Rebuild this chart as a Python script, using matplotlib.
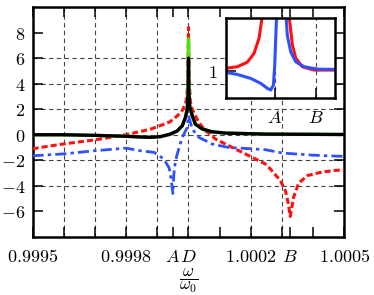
import numpy as np
import matplotlib
matplotlib.use('Agg')
import matplotlib.pyplot as plt

plt.rcParams['mathtext.fontset'] = 'cm'
plt.rcParams['font.family'] = 'serif'
plt.rcParams['font.serif'] = ['DejaVu Serif']

# x values are offsets from omega/omega0 = 1 in units of 1e-4
A_off = -0.5
B_off = 3.26

black_off = [-5, -4, -3, -2, -1.5, -1.22, -0.9, -0.58, -0.36, -0.2, -0.1, -0.04, -0.01, 0,
             0.01, 0.04, 0.12, 0.22, 0.44, 0.76, 1.19, 2.47, 5.0]
black_val = [0.0, 0.0, -0.05, -0.12, -0.18, -0.2, -0.15, 0.05, 0.3, 0.7, 1.35, 2.0, 3.5, 6.0,
             3.5, 2.2, 1.5, 0.83, 0.45, 0.23, 0.13, 0.05, 0.02]
green_val = [0.0, 0.0, -0.05, -0.12, -0.18, -0.2, -0.15, 0.05, 0.3, 0.7, 1.35, 2.0, 4.0, 7.5,
             4.0, 2.2, 1.5, 0.83, 0.45, 0.23, 0.13, 0.05, 0.02]

red_off = [-5, -4.5, -4, -3.5, -3, -2.5, -2, -1.5, -1.2, -1, -0.6, -0.35, -0.2, -0.1, -0.05, -0.02, 0,
           0.02, 0.06, 0.12, 0.33, 0.55, 0.87, 1.29, 1.72, 2.15, 2.47, 2.63, 2.95, 3.11, 3.2, 3.26,
           3.37, 3.53, 3.81, 4.23, 4.65, 5.0]
red_val = [-1.1, -0.9, -0.72, -0.56, -0.4, -0.2, 0.0, 0.28, 0.45, 0.63, 1.0, 1.5, 1.9, 2.4, 3.0, 4.5, 8.4,
           4.5, 2.6, 2.0, 0.96, 0.31, -0.34, -0.86, -1.38, -1.9, -2.3, -2.7, -3.6, -4.4, -5.4, -6.4,
           -4.9, -3.8, -3.2, -2.95, -2.8, -2.75]

blue_off = [-5, -4, -3, -2, -1.55, -1.1, -0.79, -0.62, -0.56, -0.5, -0.47, -0.42, -0.36, -0.2, -0.04, 0,
            0.12, 0.33, 0.76, 1.29, 2.03, 2.47, 3.0, 4.0, 5.0]
blue_val = [-1.65, -1.5, -1.25, -1.05, -1.25, -1.38, -1.9, -2.6, -3.4, -4.6, -3.1, -2.1, -1.5, -0.2, 0.57, 1.5,
            0.45, -0.2, -0.73, -1.0, -1.1, -1.17, -1.43, -1.6, -1.7]

# inset curves
ins_red_off = [-5, -3.92, -3.0, -2.4, -1.94, -1.64, -1.2, -0.5, 0.3, 0.8, 1.1, 1.41, 2.01, 3.08, 5.0]
ins_red_val = [1.023, 1.035, 1.07, 1.135, 1.25, 1.42, 1.8, 2.2, 2.0, 1.42, 1.2, 1.1, 1.035, 1.01, 1.01]
ins_blue_off = [-5, -3.92, -2.7, -1.79, -1.18, -0.87, -0.63, -0.51, -0.42, -0.32, -0.1, 0.3, 0.5, 0.64,
                0.95, 1.41, 2.17, 3.38, 5.0]
ins_blue_val = [0.993, 0.977, 0.947, 0.91, 0.872, 0.86, 0.897, 1.047, 1.25, 1.45, 2.0, 2.0, 1.45, 1.27,
                1.147, 1.072, 1.035, 1.017, 1.015]

xtick_off = [-5, -4, -3, -2, -1, A_off, 0, 1, 2, 3, B_off, 4, 5]
xtick_lab = ['$0.9995$', '', '', '$0.9998$', '', '$A$', '$D$', '', '$1.0002$', '', '$B$', '', '$1.0005$']
yticks = [-6, -4, -2, 0, 2, 4, 6, 8]
vgrid_off = [-4, -3, -2, -1, 0, 2, 3]
hgrid = [-4, -2, 0, 2, 4, 6]


def w(off):
    return 1 + np.array(off) * 1e-4


RED = '#ff1010'
BLUE = '#2f50ff'
GREEN = '#4fe010'

fig = plt.figure(figsize=(3.74, 2.95), dpi=100)
ax = fig.add_axes([0.087, 0.197, 0.834, 0.779])

for g in vgrid_off:
    ax.axvline(w(g), color='#444444', lw=0.8, ls=(0, (4, 3)), zorder=1)
for g in hgrid:
    ax.axhline(g, color='#444444', lw=0.8, ls=(0, (4, 3)), zorder=1)

ax.plot(w(red_off), red_val, color=RED, lw=2.2, ls=(0, (2, 1)), zorder=3)
ax.plot(w(blue_off), blue_val, color=BLUE, lw=2.0, ls=(0, (4, 1.5, 1.2, 1.5)), zorder=3)
ax.plot(w(black_off), green_val, color=GREEN, lw=2.4, zorder=4)
ax.plot(w(black_off), black_val, color='black', lw=2.4, zorder=5)

ax.set_xlim(w(-5), w(5))
ax.set_ylim(-8, 10)
ax.set_xticks(w(xtick_off))
ax.set_xticklabels(xtick_lab)
ax.set_yticks(yticks)
ax.set_yticklabels(['$%d$' % v for v in yticks])
ax.tick_params(direction='in', length=7, width=1.1, top=True, right=True, labelsize=13)
ax.tick_params(axis='x', pad=8)
ax.tick_params(axis='y', pad=5)
for s in ax.spines.values():
    s.set_linewidth(1.8)
ax.set_xlabel(r'$\dfrac{\omega}{\omega_0}$', fontsize=12, labelpad=1)

# inset
ins = fig.add_axes([0.603, 0.668, 0.293, 0.270])
ins.plot(w(ins_red_off), ins_red_val, color=RED, lw=2.2)
ins.plot(w(ins_blue_off), ins_blue_val, color=BLUE, lw=2.2)
for g in [A_off, B_off]:
    ins.axvline(w(g), color='#444444', lw=0.8, ls=(0, (4, 3)), zorder=0)
ins.set_xlim(w(-5), w(5))
ins.set_ylim(0.8, 1.4)
ins.set_xticks(w([A_off, B_off]))
ins.set_xticklabels(['$A$', '$B$'])
ins.set_yticks([1])
ins.set_yticklabels(['$1$'])
ins.tick_params(direction='in', length=7, width=1.1, labelsize=13)
ins.tick_params(axis='x', pad=8)
ins.tick_params(axis='y', pad=6)
for s in ins.spines.values():
    s.set_linewidth(1.8)

fig.savefig('out.png', dpi=100)
